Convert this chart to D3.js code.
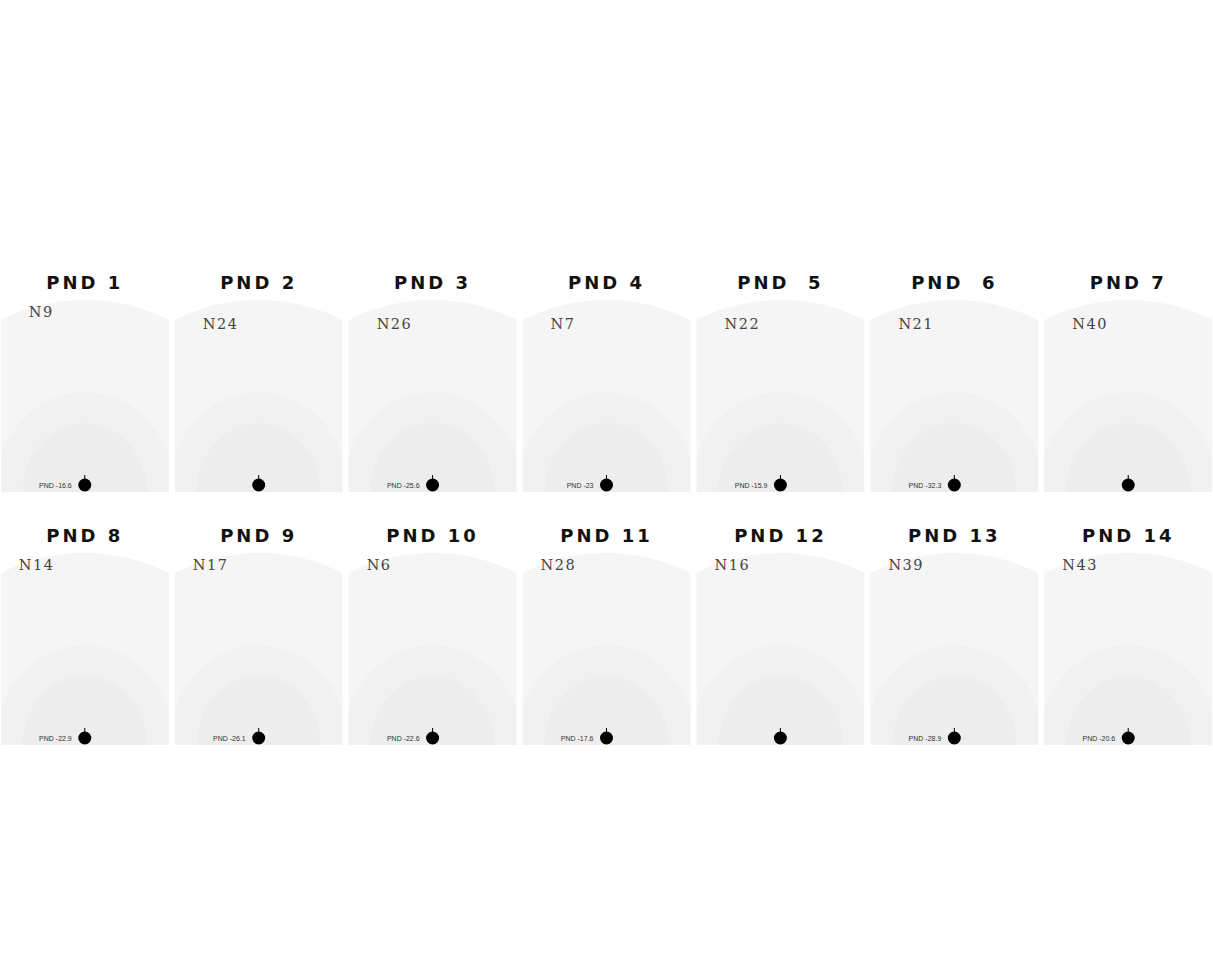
<!DOCTYPE html>
<html><head><meta charset="utf-8">
<script src="https://cdn.jsdelivr.net/npm/d3@7"></script>
<style>body{margin:0;background:#fff}svg{display:block}</style>
</head><body>
<script>
const titles = ["PND 1","PND 2","PND 3","PND 4","PND  5","PND  6","PND 7","PND 8","PND 9","PND 10","PND 11","PND 12","PND 13","PND 14"];
const nLabels = ["N9","N24","N26","N7","N22","N21","N40","N14","N17","N6","N28","N16","N39","N43"];
const pndValues = [-16.6,null,-25.6,-23,-15.9,-32.3,null,-22.9,-26.1,-22.6,-17.6,null,-28.9,-20.6];

const W = 1213, H = 960;
const svg = d3.select("body").append("svg").attr("width", W).attr("height", H);

const cols = d3.range(7), rows = d3.range(2);
const x = d3.scaleBand().domain(cols).range([0, W]).paddingInner(0.035).paddingOuter(0.005);
const yBottom = d3.scalePoint().domain(rows).range([492, 745]);
const panelH = 192, arcRise = 20;

const data = titles.map((t, i) => ({title: t, n: nLabels[i], v: pndValues[i], col: i % 7, row: Math.floor(i / 7)}));

const g = svg.selectAll("g.panel").data(data).join("g").attr("class", "panel")
  .attr("transform", d => `translate(${x(d.col)},${yBottom(d.row)})`);

const bw = x.bandwidth();
g.each(function(d, i) {
  const p = d3.select(this);
  const cx = bw / 2;
  const top = -panelH;
  const id = "clip" + i;
  const s = arcRise, hw = bw / 2;
  const R = (hw * hw + s * s) / (2 * s);
  const shape = `M0,0 L0,${top + s} A${R},${R} 0 0 1 ${bw},${top + s} L${bw},0 Z`;
  p.append("clipPath").attr("id", id).append("path").attr("d", shape);
  p.append("path").attr("d", shape).attr("fill", "#f5f5f5");
  const cg = p.append("g").attr("clip-path", `url(#${id})`);
  cg.append("ellipse").attr("cx", cx).attr("cy", 0).attr("rx", 90).attr("ry", 100).attr("fill", "#f1f1f1");
  cg.append("ellipse").attr("cx", cx).attr("cy", 0).attr("rx", 62).attr("ry", 69).attr("fill", "#ededed");

  p.append("text").attr("x", cx).attr("y", top - 11)
    .attr("text-anchor", "middle").attr("font-family", "DejaVu Sans").attr("font-weight", "bold")
    .attr("font-size", 18).attr("letter-spacing", 3).attr("fill", "#111")
    .style("white-space", "pre").text(d.title);

  const nOff = d.row === 0 ? (i === 0 ? 17 : 29) : 17;
  p.append("text").attr("x", d.row === 0 ? 28 : 18).attr("y", top + nOff)
    .attr("font-family", "DejaVu Serif").attr("font-size", 14.5).attr("letter-spacing", 1.5)
    .attr("fill", "#444").text(d.n);

  const dy = -7;
  p.append("line").attr("x1", cx).attr("x2", cx).attr("y1", dy - 10).attr("y2", dy - 4)
    .attr("stroke", "#000").attr("stroke-width", 1);
  p.append("circle").attr("cx", cx).attr("cy", dy).attr("r", 6.5).attr("fill", "#000");
  if (d.v !== null) {
    p.append("text").attr("x", cx - 13).attr("y", dy + 2.5).attr("text-anchor", "end")
      .attr("font-family", "Liberation Sans").attr("font-size", 7).attr("fill", "#333")
      .text("PND " + d.v);
  }
});
</script>
</body></html>
